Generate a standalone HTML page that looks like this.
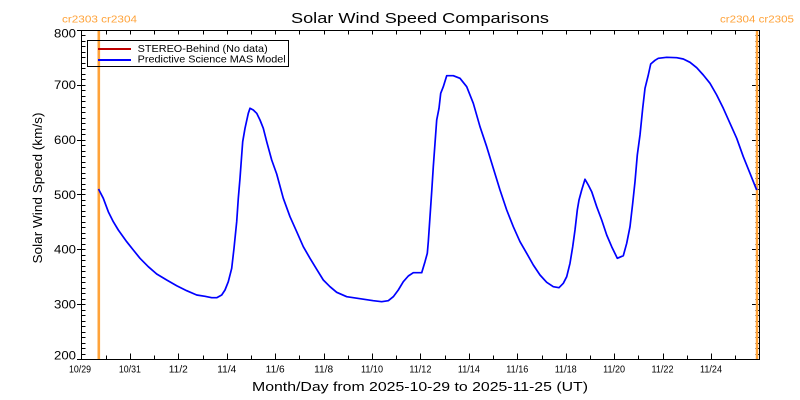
<!DOCTYPE html>
<html><head><meta charset="utf-8"><style>
html,body{margin:0;padding:0;background:#fff;}
svg{display:block;}
text{font-family:"Liberation Sans",sans-serif;}
</style></head><body>
<svg width="800" height="400" viewBox="0 0 800 400" xmlns="http://www.w3.org/2000/svg">
<rect width="800" height="400" fill="#fff"/>
<!-- title -->
<text x="420" y="23" font-size="15" text-anchor="middle" textLength="258" lengthAdjust="spacingAndGlyphs">Solar Wind Speed Comparisons</text>
<!-- carrington labels -->
<text x="62" y="22.7" font-size="10" fill="#ffa33a" textLength="75" lengthAdjust="spacingAndGlyphs">cr2303 cr2304</text>
<text x="720" y="22.7" font-size="10" fill="#ffa33a" textLength="74" lengthAdjust="spacingAndGlyphs">cr2304 cr2305</text>
<!-- y label -->
<text transform="translate(42,188) rotate(-90)" font-size="12.5" text-anchor="middle" textLength="151" lengthAdjust="spacingAndGlyphs">Solar Wind Speed (km/s)</text>
<!-- x title -->
<text x="420" y="391" font-size="12.5" text-anchor="middle" textLength="336" lengthAdjust="spacingAndGlyphs">Month/Day from 2025-10-29 to 2025-11-25 (UT)</text>
<!-- y tick labels -->
<g font-size="11.5" text-anchor="end">
<text x="76" y="37.3" textLength="22" lengthAdjust="spacingAndGlyphs">800</text>
<text x="76" y="88.8" textLength="22" lengthAdjust="spacingAndGlyphs">700</text>
<text x="76" y="143.8" textLength="22" lengthAdjust="spacingAndGlyphs">600</text>
<text x="76" y="198.8" textLength="22" lengthAdjust="spacingAndGlyphs">500</text>
<text x="76" y="253.5" textLength="22" lengthAdjust="spacingAndGlyphs">400</text>
<text x="76" y="308.6" textLength="22" lengthAdjust="spacingAndGlyphs">300</text>
<text x="76" y="359.3" textLength="22" lengthAdjust="spacingAndGlyphs">200</text>
</g>
<!-- x tick labels -->
<g font-size="10" text-anchor="middle">
<text x="80" y="372.7" textLength="22" lengthAdjust="spacingAndGlyphs">10/29</text>
<text x="129.9" y="372.7" textLength="22" lengthAdjust="spacingAndGlyphs">10/31</text>
<text x="178.3" y="372.7" textLength="19" lengthAdjust="spacingAndGlyphs">11/2</text>
<text x="226.8" y="372.7" textLength="19" lengthAdjust="spacingAndGlyphs">11/4</text>
<text x="275.2" y="372.7" textLength="19" lengthAdjust="spacingAndGlyphs">11/6</text>
<text x="323.6" y="372.7" textLength="19" lengthAdjust="spacingAndGlyphs">11/8</text>
<text x="372.0" y="372.7" textLength="22" lengthAdjust="spacingAndGlyphs">11/10</text>
<text x="420.4" y="372.7" textLength="22" lengthAdjust="spacingAndGlyphs">11/12</text>
<text x="468.9" y="372.7" textLength="22" lengthAdjust="spacingAndGlyphs">11/14</text>
<text x="517.3" y="372.7" textLength="22" lengthAdjust="spacingAndGlyphs">11/16</text>
<text x="565.7" y="372.7" textLength="22" lengthAdjust="spacingAndGlyphs">11/18</text>
<text x="614.1" y="372.7" textLength="22" lengthAdjust="spacingAndGlyphs">11/20</text>
<text x="662.5" y="372.7" textLength="22" lengthAdjust="spacingAndGlyphs">11/22</text>
<text x="711.0" y="372.7" textLength="22" lengthAdjust="spacingAndGlyphs">11/24</text>
</g>
<!-- ticks -->
<g stroke="#000" stroke-width="1" fill="none" id="ticks"></g>
<!-- orange lines -->
<line x1="98.8" y1="30.5" x2="98.8" y2="359.5" stroke="#ffa33a" stroke-width="2.6"/>
<line x1="757" y1="30.5" x2="757" y2="359.5" stroke="#ffa33a" stroke-width="2.4"/>
<!-- frame -->
<rect x="81.5" y="30.5" width="678" height="329" fill="none" stroke="#000" stroke-width="1"/>
<!-- legend -->
<rect x="87.5" y="40.5" width="201" height="26" fill="none" stroke="#000" stroke-width="1"/>
<line x1="98" y1="49" x2="131" y2="49" stroke="#c00000" stroke-width="2"/>
<line x1="98" y1="60" x2="131" y2="60" stroke="#0000ff" stroke-width="2"/>
<text x="137.7" y="52" font-size="10.5" textLength="130" lengthAdjust="spacingAndGlyphs">STEREO-Behind (No data)</text>
<text x="137.7" y="62.5" font-size="10.5" textLength="148" lengthAdjust="spacingAndGlyphs">Predictive Science MAS Model</text>
<!-- data -->
<polyline fill="none" stroke="#0000ff" stroke-width="1.7" stroke-linejoin="round" points="98.5,189 103.3,198.3 108.3,211.7 113.3,221.7 118.3,230 126.7,241.7 133.3,250 140,258.3 148.3,266.7 156.7,274 166.7,280 176.7,285.7 186.7,290.7 196.7,295 205,296.3 211.7,297.7 216.7,297.7 221.7,295 225,290 228.3,281.7 231.7,268.3 234,248.3 236.7,221.7 238.3,198.3 240,178.3 241.7,155 242.7,141.7 245,128.3 248.3,113.3 250,108.3 253.3,110 256.7,113.3 260,120 263.3,128.3 266.7,141.7 271.7,160 276.7,174 283.3,198.3 290,216.7 296.7,231.7 303.3,246.7 310,258.3 316.7,269.3 323.3,280 330,286.7 336.7,292.3 346.7,296.7 360,298.7 373.3,300.7 381.7,301.7 388.3,300.7 393.3,296.7 398.3,290 403.3,281.7 408.3,276 413.3,272.7 421.7,272.7 425,261.7 427.3,253.3 428.3,241.7 430,216.7 431.7,191.7 433.3,166.7 435,143.3 436.7,120 439,108.3 440.7,93.3 443.3,86.7 446.7,75.7 453.3,75.7 460,78.3 466.7,86.7 473.3,103.3 480,126.7 486.7,146.7 493.3,168.3 500,190 506.7,210 513.3,226.7 520,241.7 526.7,253.3 533.3,265 540,275 546.7,282.3 553.3,286.7 559,287.7 563.3,283.3 566.7,276.7 570,263.3 572.7,246.7 575,230 577.3,210 579,200 581.7,190 585,179.3 588.3,185 591.7,191.7 596.7,206.7 601.7,220 606.7,235 611.7,246.7 617.3,258.3 623.3,255.7 626.7,243.3 630,226.7 632.7,203.3 635,181.7 637.3,155 640,135 642.7,108.3 645,88.3 648.3,75 650.7,64 655,60.3 658.3,58.3 666.7,57.3 676.7,57.7 683.3,59 690,62.3 696.7,67.7 703.3,75 710,83.3 716.7,95 723.3,108.3 730,123.3 736.7,138.3 743.3,156.7 750,173.3 756,188.3 757,190"/>
</svg>
<script>
(function(){
var g=document.getElementById('ticks'),ns='http://www.w3.org/2000/svg';
function L(x1,y1,x2,y2){var l=document.createElementNS(ns,'line');l.setAttribute('x1',x1);l.setAttribute('y1',y1);l.setAttribute('x2',x2);l.setAttribute('y2',y2);g.appendChild(l);}
var x0=81.5,dx=24.214;
for(var d=1;d<28;d++){var x=Math.round(x0+d*dx)+0.5;var len=(d%2==0)?6:4;L(x,359.5,x,359.5-len);L(x,30.5,x,34.5);}
for(var v=200;v<=800;v+=10){var y=Math.round(30.5+(800-v)*0.54833-0.5)+0.5;if(v%100==0){L(77,y,85.5,y);L(752,y,759.5,y);}else{L(81.5,y,85.5,y);L(755.5,y,759.5,y);}}
})();
</script>
</body></html>
